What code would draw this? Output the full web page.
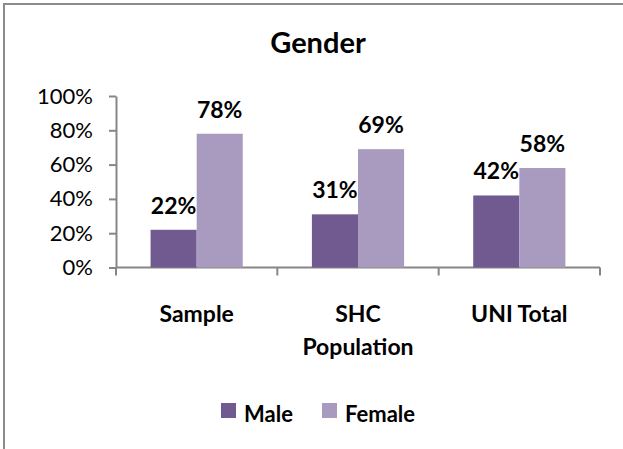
<!DOCTYPE html>
<html>
<head>
<meta charset="utf-8">
<script src="https://cdn.jsdelivr.net/npm/d3@7"></script>
<style>
  body { margin: 0; background: #fff; }
  text { font-family: Lato, "Open Sans", sans-serif; }
</style>
</head>
<body>
<div id="chart"></div>
<script>
// data
let categories = ['Sample', 'SHC Population', 'UNI Total']
let categoryLines = [['Sample'], ['SHC', 'Population'], ['UNI Total']]
let series = ['Male', 'Female']
let maleValues = [22, 31, 42]
let femaleValues = [78, 69, 58]
let yTicks = [0, 20, 40, 60, 80, 100]

let colors = { Male: '#705a8f', Female: '#a99bc0' }

let width = 623
let height = 449
let margin = { top: 96, left: 116, right: 23, bottom: 181 }

let svg = d3
  .select('#chart')
  .append('svg')
  .attr('width', width)
  .attr('height', height)

// outer chart border (runs off the right / bottom edge like the screenshot)
svg
  .append('rect')
  .attr('x', 4)
  .attr('y', 4)
  .attr('width', 640)
  .attr('height', 480)
  .attr('fill', 'none')
  .attr('stroke', '#8c8c8c')
  .attr('stroke-width', 2)

let rows = categories.map((c, i) => ({
  category: c,
  lines: categoryLines[i],
  Male: maleValues[i],
  Female: femaleValues[i]
}))

let xScale = d3
  .scaleBand()
  .domain(categories)
  .range([margin.left, width - margin.right])
  .padding(0)

let xInner = d3
  .scaleBand()
  .domain(series)
  .range([0, xScale.bandwidth()])
  .paddingInner(0)
  .paddingOuter(0.75)

let yScale = d3
  .scaleLinear()
  .domain([0, 100])
  .range([height - margin.bottom - 0.5, margin.top])

// title
svg
  .append('text')
  .attr('x', 318)
  .attr('y', 53)
  .attr('text-anchor', 'middle')
  .attr('font-size', 29)
  .attr('font-weight', 'bold')
  .text('Gender')

// y axis
let yAxis = d3
  .axisLeft(yScale)
  .tickValues(yTicks)
  .tickFormat(d => d + '%')
  .tickSizeInner(7)
  .tickSizeOuter(0)
  .tickPadding(16)

let yG = svg
  .append('g')
  .attr('transform', 'translate(' + margin.left + ',0)')
  .call(yAxis)
yG.selectAll('path, line').attr('stroke', '#868686').attr('stroke-width', 2)
yG.selectAll('text')
  .attr('font-size', 22)
  .attr('fill', '#000')
  .style('font-family', 'Lato, sans-serif')

// x axis with ticks between categories
let xAxisY = yScale(0)
let xG = svg.append('g')
xG.append('line')
  .attr('x1', margin.left)
  .attr('x2', width - margin.right)
  .attr('y1', xAxisY)
  .attr('y2', xAxisY)
  .attr('stroke', '#868686')
  .attr('stroke-width', 2)

let boundaries = categories.map(c => xScale(c)).concat([xScale.range()[1]])
xG.selectAll('.xtick')
  .data(boundaries)
  .enter()
  .append('line')
  .attr('class', 'xtick')
  .attr('x1', d => d)
  .attr('x2', d => d)
  .attr('y1', xAxisY)
  .attr('y2', xAxisY + 8)
  .attr('stroke', '#868686')
  .attr('stroke-width', 2)

// bars
let groups = svg
  .selectAll('.group')
  .data(rows)
  .enter()
  .append('g')
  .attr('class', 'group')
  .attr('transform', d => 'translate(' + xScale(d.category) + ',0)')

groups
  .selectAll('rect')
  .data(d => series.map(s => ({ key: s, value: d[s] })))
  .enter()
  .append('rect')
  .attr('x', d => xInner(d.key))
  .attr('width', xInner.bandwidth())
  .attr('y', d => yScale(d.value))
  .attr('height', d => yScale(0) - yScale(d.value))
  .attr('fill', d => colors[d.key])

// value labels
groups
  .selectAll('.value')
  .data(d => series.map(s => ({ key: s, value: d[s] })))
  .enter()
  .append('text')
  .attr('class', 'value')
  .attr('x', d => xInner(d.key) + xInner.bandwidth() / 2)
  .attr('y', d => yScale(d.value) - 16)
  .attr('text-anchor', 'middle')
  .attr('font-size', 23)
  .attr('font-weight', 'bold')
  .text(d => d.value + '%')

// category labels
groups
  .selectAll('.cat')
  .data(d => d.lines)
  .enter()
  .append('text')
  .attr('class', 'cat')
  .attr('x', xScale.bandwidth() / 2)
  .attr('y', (d, i) => 322 + i * 33)
  .attr('text-anchor', 'middle')
  .attr('font-size', 23)
  .attr('font-weight', 'bold')
  .text(d => d)

// legend
let legendX = [221, 322]
let legend = svg
  .selectAll('.legend')
  .data(series)
  .enter()
  .append('g')
  .attr('class', 'legend')
  .attr('transform', (d, i) => 'translate(' + legendX[i] + ',403)')

legend
  .append('rect')
  .attr('width', 15)
  .attr('height', 15)
  .attr('fill', d => colors[d])

legend
  .append('text')
  .attr('x', 23)
  .attr('y', 19)
  .attr('font-size', 22)
  .attr('font-weight', 'bold')
  .text(d => d)
</script>
</body>
</html>
